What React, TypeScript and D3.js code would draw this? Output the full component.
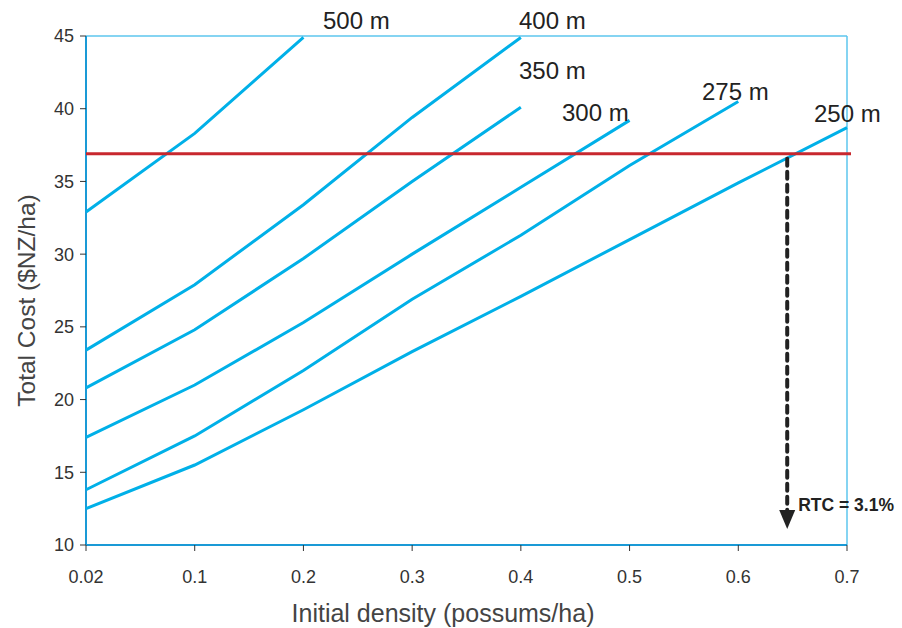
import React from "react";
import * as d3 from "d3";

const categories = ["0.02", "0.1", "0.2", "0.3", "0.4", "0.5", "0.6", "0.7"];
const yTicks = [10, 15, 20, 25, 30, 35, 40, 45];

const s500 = [32.9, 38.3, 44.9];
const s400 = [23.4, 27.9, 33.4, 39.4, 44.9];
const s350 = [20.8, 24.8, 29.7, 35.0, 40.1];
const s300 = [17.4, 21.0, 25.3, 30.0, 34.6, 39.2];
const s275 = [13.8, 17.5, 22.0, 26.9, 31.3, 36.1, 40.5];
const s250 = [12.5, 15.5, 19.3, 23.3, 27.1, 31.0, 34.9, 38.7];

const seriesNames = ["500 m", "400 m", "350 m", "300 m", "275 m", "250 m"];
const seriesValues = [s500, s400, s350, s300, s275, s250];

const thresholdCost = 36.9;
const rtcPosition = 6.45; // index position along category axis (≈0.645)
const rtcLabel = "RTC = 3.1%";

const W = 902;
const H = 628;
const left = 86, right = 847, top = 36, bottom = 545;

export default function App() {
  const x = d3.scalePoint<string>().domain(categories).range([left, right]);
  const xi = d3.scaleLinear().domain([0, categories.length - 1]).range([left, right]);
  const y = d3.scaleLinear().domain([10, 45]).range([bottom, top]);
  const line = d3
    .line<number>()
    .x((_, i) => x(categories[i]) as number)
    .y((d) => y(d));

  const labelPos: [number, number][] = [
    [323, 29],
    [519, 29],
    [519, 79],
    [562, 121],
    [702, 100],
    [814, 122],
  ];

  const ax = xi(rtcPosition);
  const font = "Helvetica, Arial, 'Liberation Sans', sans-serif";

  return (
    <svg width={W} height={H} style={{ position: "absolute", left: 0, top: 0, background: "#fff" }} fontFamily={font}>
      {/* frame */}
      <line x1={left} y1={top} x2={right} y2={top} stroke="#5cc6ee" strokeWidth={1.5} />
      <line x1={right} y1={top} x2={right} y2={bottom} stroke="#5cc6ee" strokeWidth={1.5} />
      <line x1={left} y1={top} x2={left} y2={bottom} stroke="#1a9ad6" strokeWidth={2} />
      <line x1={left} y1={bottom} x2={right} y2={bottom} stroke="#1a9ad6" strokeWidth={2} />

      {/* y ticks */}
      {yTicks.map((t) => (
        <g key={t}>
          <line x1={left - 6} x2={left} y1={y(t)} y2={y(t)} stroke="#333" strokeWidth={1} />
          <text x={left - 12} y={y(t)} dy="0.36em" textAnchor="end" fontSize={18} fill="#333">
            {t}
          </text>
        </g>
      ))}

      {/* x ticks */}
      {categories.map((c) => (
        <g key={c}>
          <line x1={x(c)} x2={x(c)} y1={bottom} y2={bottom + 6} stroke="#333" strokeWidth={1} />
          <text x={x(c)} y={bottom + 38} textAnchor="middle" fontSize={18} fill="#333">
            {c}
          </text>
        </g>
      ))}

      {/* axis titles */}
      <text x={443} y={622} textAnchor="middle" fontSize={25} fill="#444">
        Initial density (possums/ha)
      </text>
      <text
        transform={`translate(35, ${(top + bottom) / 2 + 10}) rotate(-90)`}
        textAnchor="middle"
        fontSize={24.5}
        fill="#444"
      >
        Total Cost ($NZ/ha)
      </text>

      {/* series */}
      {seriesValues.map((vals, i) => (
        <path key={i} d={line(vals) as string} fill="none" stroke="#00b0e8" strokeWidth={3} />
      ))}

      {/* series labels */}
      {seriesNames.map((n, i) => (
        <text key={n} x={labelPos[i][0]} y={labelPos[i][1]} fontSize={24} fill="#222">
          {n}
        </text>
      ))}

      {/* threshold */}
      <line x1={left} x2={right + 4} y1={y(thresholdCost)} y2={y(thresholdCost)} stroke="#c8282e" strokeWidth={3} />

      {/* arrow */}
      <line
        x1={ax}
        x2={ax}
        y1={y(thresholdCost) + 5}
        y2={512}
        stroke="#222"
        strokeWidth={4}
        strokeDasharray="7 6"
        strokeLinecap="round"
      />
      <path d={`M${ax - 8},510 L${ax + 8},510 L${ax},529 Z`} fill="#222" />
      <text x={ax + 11} y={511} fontSize={17.5} fontWeight="bold" fill="#222">
        {rtcLabel}
      </text>
    </svg>
  );
}
